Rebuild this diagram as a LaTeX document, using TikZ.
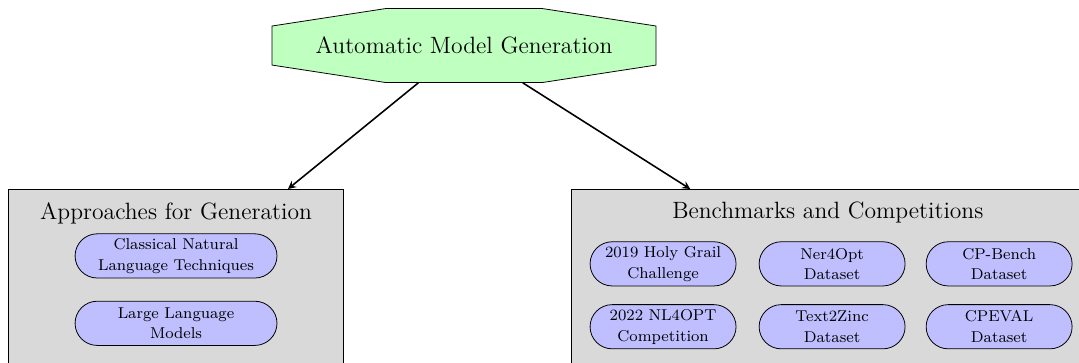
\documentclass[tikz,border=0pt]{standalone}
\usepackage{tikz}
\usetikzlibrary{shapes,arrows,positioning,calc}

\begin{document}
\begin{tikzpicture}[
  topic/.style={minimum width=6.87cm, minimum height=1.32cm, font=\large},
  group/.style={draw, fill=gray!30, minimum height=3.27cm, anchor=north},
  grouptitle/.style={font=\large},
  item/.style={rounded rectangle, draw, fill=blue!25, align=center,
    font=\linespread{1.1}\footnotesize, minimum height=0.79cm, inner sep=1pt},
  link/.style={thick, -stealth}
]
\clip (0,0) rectangle (19.29,-6.473);
% top node
\draw[fill=green!25, shift={(8.296,-0.814)}] (-1.395,0.662) -- (1.395,0.662) -- (3.433,0.349) -- (3.433,-0.349)
  -- (1.395,-0.662) -- (-1.395,-0.662) -- (-3.433,-0.349) -- (-3.433,0.349) -- cycle;
\node[topic] (amg) at (8.296,-0.814) {Automatic Model Generation};
% approaches
\node[group, minimum width=5.99cm] (appr) at (3.138,-3.379) {};
\node[grouptitle] (apprtitle) at (3.147,-3.808) {Approaches for Generation};
\node[item, minimum width=3.68cm] (cnlt) at (3.147,-4.575) {Classical Natural\\Language Techniques};
\node[item, minimum width=3.68cm] (llm) at (3.147,-5.78) {Large Language\\Models};
% benchmarks
\node[group, minimum width=9.28cm] (bench) at (14.85,-3.379) {};
\node[grouptitle] (benchtitle) at (14.80,-3.79) {Benchmarks and Competitions};
\node[item, minimum width=2.68cm] (hgc) at (11.854,-4.717) {2019 Holy Grail\\Challenge};
\node[item, minimum width=2.68cm] (nfo) at (14.876,-4.717) {Ner4Opt\\Dataset};
\node[item, minimum width=2.68cm] (cpb) at (17.862,-4.717) {CP-Bench\\Dataset};
\node[item, minimum width=2.68cm] (nlo) at (11.854,-5.841) {2022 NL4OPT\\Competition};
\node[item, minimum width=2.68cm] (ttz) at (14.876,-5.841) {Text2Zinc\\Dataset};
\node[item, minimum width=2.68cm] (cpe) at (17.862,-5.841) {CPEVAL\\Dataset};
% links
\draw[link] (amg) -- ([xshift=2.01cm]appr.north);
\draw[link] (amg) -- ([xshift=-2.51cm]bench.north);
\end{tikzpicture}
\end{document}
